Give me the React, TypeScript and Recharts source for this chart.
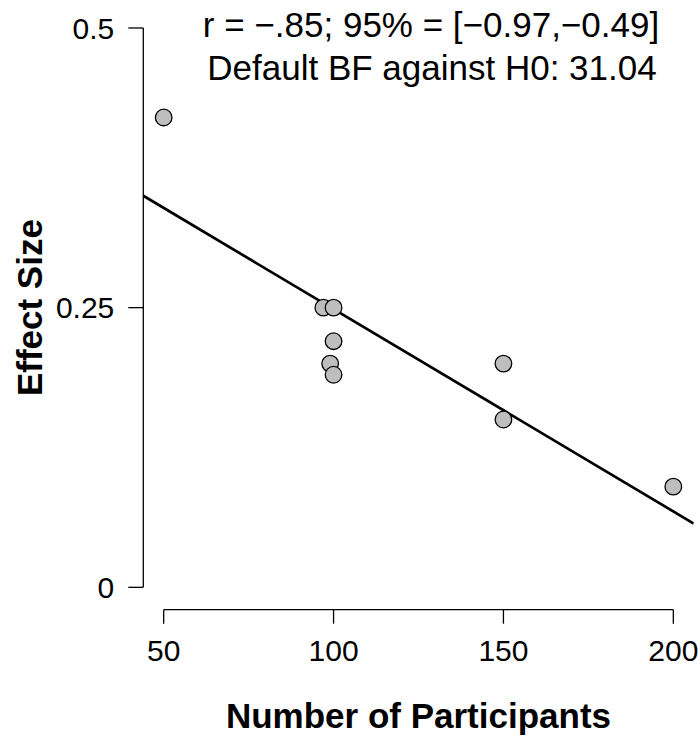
import { ScatterChart, Scatter, XAxis, YAxis, ReferenceLine } from 'recharts';

// study sample sizes and their effect sizes
const participants = [50, 97, 100, 100, 99, 100, 150, 150, 200];
const effectSizes = [0.42, 0.25, 0.25, 0.22, 0.2, 0.19, 0.2, 0.15, 0.09];

// regression line end points, read at the plot edges
const fitX = [44, 206];
const fitY = [0.35, 0.057];

const xTicks = [50, 100, 150, 200];
const yTicks = [0, 0.25, 0.5];
const xDomain = [44, 206];
const yDomain = [-0.02, 0.52];

const titleLines = ['r = \u2212.85; 95% = [\u22120.97,\u22120.49]', 'Default BF against H0: 31.04'];

const font = '"Liberation Sans", Arial, Helvetica, sans-serif';

const points = participants.map((x, i) => ({ x, y: effectSizes[i] }));
const fitData = fitX.map((x, i) => ({ x, y: fitY[i] }));

const Dot = (props: any) => {
  if (props.cx == null || props.cy == null) return <g />;
  return <circle cx={props.cx} cy={props.cy} r={8.3} fill="#bebebe" stroke="#000" strokeWidth={1.3} />;
};

export default function App() {
  return (
    <div style={{ position: 'absolute', left: 0, top: 0, width: 700, height: 738, background: '#fff' }}>
      <ScatterChart width={700} height={738} margin={{ top: 5.6, right: 6.3, bottom: 0, left: 0 }}>
        <XAxis
          type="number"
          dataKey="x"
          domain={xDomain}
          ticks={xTicks}
          interval={0}
          allowDataOverflow
          axisLine={false}
          tickLine={{ stroke: '#000', strokeWidth: 1.3 }}
          tickSize={14}
          tickMargin={15.5}
          height={128.3}
          tick={{ fill: '#000', fontSize: 30, fontFamily: font }}
        />
        <YAxis
          type="number"
          dataKey="y"
          domain={yDomain}
          ticks={yTicks}
          interval={0}
          allowDataOverflow
          axisLine={false}
          tickLine={{ stroke: '#000', strokeWidth: 1.3 }}
          tickSize={15}
          tickMargin={14}
          width={143.3}
          tick={{ fill: '#000', fontSize: 30, fontFamily: font }}
        />
        {/* R style axis lines that only span the tick range */}
        <ReferenceLine
          segment={[{ x: xTicks[0], y: yDomain[0] }, { x: xTicks[xTicks.length - 1], y: yDomain[0] }]}
          stroke="#000"
          strokeWidth={1.3}
          ifOverflow="visible"
        />
        <ReferenceLine
          segment={[{ x: xDomain[0], y: yTicks[0] }, { x: xDomain[0], y: yTicks[yTicks.length - 1] }]}
          stroke="#000"
          strokeWidth={1.3}
          ifOverflow="visible"
        />
        <Scatter
          data={fitData}
          line={{ stroke: '#000', strokeWidth: 2.7 }}
          lineType="joint"
          shape={() => <g />}
          isAnimationActive={false}
        />
        <Scatter data={points} shape={Dot} isAnimationActive={false} />
      </ScatterChart>
      <svg width={700} height={738} style={{ position: 'absolute', left: 0, top: 0, pointerEvents: 'none' }}>
        <text x={431} y={37} textAnchor="middle" fontSize={35} fontFamily={font} fill="#000">
          {titleLines[0]}
        </text>
        <text x={432} y={80} textAnchor="middle" fontSize={35} fontFamily={font} fill="#000">
          {titleLines[1]}
        </text>
        <text x={418.5} y={728} textAnchor="middle" fontSize={35} fontWeight="bold" fontFamily={font} fill="#000">
          Number of Participants
        </text>
        <text
          x={41.7}
          y={307.6}
          transform="rotate(-90 41.7 307.6)"
          textAnchor="middle"
          fontSize={35}
          fontWeight="bold"
          fontFamily={font}
          fill="#000"
        >
          Effect Size
        </text>
      </svg>
    </div>
  );
}
